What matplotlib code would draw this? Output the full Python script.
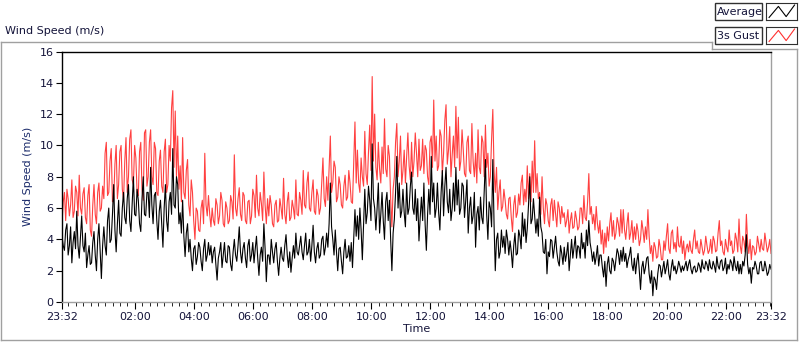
import numpy as np
import matplotlib
matplotlib.use("Agg")
import matplotlib.pyplot as plt
from matplotlib.patches import Rectangle
from matplotlib.lines import Line2D

# 3s gust, one value every 2.5 minutes from 23:32 (24 per hour, one row per hour)
gust_speed = [
    5.0, 6.4, 7.0, 5.2, 7.2, 6.6, 5.5, 6.2, 7.8, 5.4, 5.8, 7.4, 7.0, 5.5, 8.1, 6.0, 5.6, 6.9, 7.3, 5.4, 5.0, 6.8, 7.5, 4.6,
    4.2, 6.2, 7.5, 5.6, 5.0, 7.0, 7.6, 5.8, 6.0, 7.4, 6.6, 9.5, 10.2, 6.8, 7.0, 9.0, 9.8, 6.4, 6.5, 8.8, 10.0, 6.6, 7.5, 9.6,
    10.0, 7.2, 6.5, 9.0, 10.5, 7.0, 8.0, 10.4, 11.0, 7.8, 7.5, 10.0, 9.2, 7.0, 6.8, 9.6, 10.2, 7.2, 6.5, 10.8, 11.0, 7.4, 8.0, 10.2,
    11.0, 8.0, 7.5, 10.2, 9.8, 7.0, 6.8, 9.0, 9.7, 7.4, 7.0, 9.6, 10.4, 7.0, 7.5, 10.0, 9.0, 12.4, 13.5, 8.6, 12.2, 8.0, 10.6, 7.2,
    8.7, 6.4, 10.5, 7.0, 6.6, 8.4, 9.1, 6.2, 5.5, 7.8, 7.0, 5.2, 4.0, 6.0, 5.8, 4.6, 4.5, 6.0, 6.5, 5.0, 9.5, 6.2, 5.5, 6.8,
    5.6, 4.8, 6.0, 5.2, 4.9, 6.6, 6.2, 5.0, 5.5, 7.0, 6.5, 5.0, 4.8, 6.4, 6.0, 5.0, 5.2, 6.8, 6.4, 5.3, 9.4, 6.0, 5.5, 6.6,
    7.3, 5.6, 5.2, 7.0, 6.8, 5.2, 5.0, 6.4, 6.5, 5.0, 5.5, 7.2, 6.8, 5.4, 8.1, 6.0, 5.5, 7.0, 6.3, 5.2, 8.3, 6.2, 5.0, 6.6,
    5.5, 6.8, 6.2, 5.0, 4.8, 6.2, 6.5, 5.1, 5.2, 6.6, 6.0, 5.3, 7.9, 5.6, 5.0, 6.4, 7.0, 5.2, 5.4, 6.5, 6.0, 5.3, 7.8, 5.6,
    5.5, 7.0, 6.5, 5.6, 8.4, 6.2, 6.0, 7.6, 8.3, 6.0, 5.8, 7.0, 7.8, 5.8, 5.6, 7.2, 6.8, 5.6, 6.0, 7.6, 9.2, 6.6, 6.1, 8.0,
    6.5, 8.6, 10.6, 7.0, 7.6, 9.0, 8.6, 6.4, 6.7, 8.0, 7.5, 6.2, 6.0, 7.4, 8.1, 6.5, 6.7, 8.4, 7.6, 6.4, 6.3, 9.0, 11.5, 7.6,
    9.7, 7.6, 7.0, 9.2, 8.0, 7.4, 10.9, 8.2, 7.5, 9.6, 11.3, 8.4, 14.4, 9.0, 12.0, 8.6, 7.8, 10.2, 8.5, 7.6, 9.9, 8.2, 11.7, 8.5,
    8.0, 10.0, 9.3, 6.6, 4.8, 7.2, 8.0, 10.2, 11.4, 8.0, 9.0, 10.6, 7.5, 8.4, 9.7, 7.6, 9.3, 10.8, 8.7, 7.8, 10.2, 8.0, 9.0, 10.8,
    9.5, 8.0, 10.4, 8.4, 8.7, 10.4, 8.2, 10.0, 9.7, 8.0, 7.5, 10.2, 10.6, 8.6, 12.9, 9.0, 10.6, 8.4, 8.7, 11.0, 10.6, 8.2, 9.5, 11.6,
    12.6, 8.8, 9.7, 11.2, 8.0, 9.4, 10.6, 8.6, 12.5, 9.2, 11.8, 8.4, 9.0, 11.0, 9.7, 8.2, 8.0, 10.2, 10.6, 8.4, 8.2, 11.4, 9.0, 8.0,
    9.5, 7.6, 11.0, 8.6, 8.2, 10.6, 10.2, 8.0, 11.3, 8.6, 9.5, 7.4, 8.0, 10.4, 12.3, 8.4, 7.0, 8.6, 5.9, 7.0, 7.8, 5.8, 6.1, 7.2,
    6.5, 5.6, 5.3, 6.6, 6.7, 5.4, 4.5, 6.2, 6.8, 5.4, 5.7, 6.9, 6.2, 7.6, 8.1, 6.2, 7.2, 6.4, 8.7, 6.6, 8.2, 6.4, 9.0, 7.0,
    10.3, 7.0, 8.2, 6.6, 7.0, 5.6, 8.0, 6.0, 5.0, 6.6, 6.2, 5.2, 4.8, 6.2, 6.6, 5.2, 6.5, 5.6, 4.8, 6.4, 6.0, 5.0, 6.1, 5.4,
    5.7, 4.8, 5.2, 5.9, 4.4, 5.2, 5.7, 4.7, 4.8, 5.8, 5.3, 4.6, 4.8, 6.0, 6.0, 5.0, 6.8, 5.4, 5.2, 6.4, 8.2, 5.6, 6.1, 5.0,
    5.6, 4.6, 6.1, 5.0, 4.4, 5.2, 3.7, 4.6, 3.1, 4.4, 3.5, 4.8, 3.9, 5.0, 5.7, 4.2, 5.2, 4.0, 4.4, 5.4, 5.0, 4.2, 5.9, 4.4,
    5.9, 4.6, 4.0, 5.0, 5.7, 4.0, 4.4, 5.2, 3.8, 4.8, 4.0, 5.0, 4.5, 3.6, 4.0, 5.2, 4.6, 3.8, 4.8, 4.0, 5.9, 4.2, 3.1, 3.6,
    2.6, 3.8, 3.5, 2.8, 2.9, 4.0, 3.5, 2.7, 2.7, 3.9, 3.3, 4.2, 5.0, 3.4, 3.1, 4.4, 4.6, 3.4, 3.8, 3.2, 4.8, 3.6, 3.5, 4.2,
    3.1, 3.9, 2.7, 3.4, 3.7, 3.2, 3.9, 3.3, 3.1, 4.0, 4.6, 3.4, 3.9, 3.2, 3.1, 4.0, 3.5, 3.0, 3.3, 4.2, 3.6, 3.1, 3.3, 4.0,
    3.1, 4.2, 3.9, 3.2, 3.3, 4.4, 5.2, 3.6, 3.9, 3.2, 3.0, 4.0, 3.5, 3.2, 4.6, 3.6, 3.9, 3.1, 3.3, 4.4, 4.0, 3.2, 5.3, 3.6,
    3.1, 4.2, 3.9, 3.2, 5.6, 3.8, 3.1, 4.0, 2.7, 3.6, 3.5, 3.0, 3.2, 4.2, 3.7, 3.2, 4.0, 3.4, 3.3, 4.4, 3.8, 3.2, 3.5, 4.0,
    3.1,
]

# average wind speed, same timestamps
avg_speed = [
    4.2, 3.6, 3.3, 4.6, 5.0, 3.0, 3.6, 4.8, 2.5, 3.8, 4.5, 3.4, 5.8, 3.6, 2.8, 4.2, 5.5, 3.6, 3.2, 4.4, 2.2, 3.0, 3.6, 2.4,
    2.5, 3.8, 4.5, 3.0, 2.0, 4.0, 5.0, 3.2, 1.5, 3.6, 4.8, 3.6, 3.0, 5.2, 6.0, 3.8, 4.0, 5.6, 7.5, 4.6, 3.2, 5.0, 6.5, 4.4,
    4.2, 6.0, 7.0, 5.4, 5.0, 6.6, 7.5, 5.2, 4.5, 6.2, 8.0, 5.6, 5.5, 7.2, 6.5, 5.0, 4.5, 6.6, 8.0, 5.6, 5.5, 7.0, 7.0, 5.4,
    8.6, 6.2, 5.0, 6.8, 7.0, 5.2, 4.0, 5.8, 6.5, 5.0, 3.5, 6.0, 7.5, 5.2, 4.5, 6.4, 7.0, 5.6, 9.8, 6.2, 6.0, 8.0, 7.5, 5.0,
    5.7, 4.4, 6.5, 4.2, 2.9, 4.4, 5.0, 3.2, 4.0, 2.8, 2.0, 3.4, 3.6, 2.4, 2.9, 3.8, 3.5, 2.6, 2.0, 3.4, 4.0, 2.6, 3.0, 3.8,
    3.0, 3.6, 2.5, 3.2, 3.5, 2.4, 1.4, 2.8, 3.2, 3.8, 2.2, 3.0, 3.8, 2.6, 2.5, 3.6, 3.5, 2.4, 2.0, 3.2, 4.0, 3.0, 2.6, 3.6,
    4.8, 3.2, 2.5, 3.4, 3.8, 2.8, 2.2, 3.6, 4.0, 2.6, 3.0, 3.8, 2.5, 3.4, 4.2, 2.8, 1.7, 3.0, 3.5, 2.6, 5.0, 3.4, 1.3, 3.0,
    3.0, 2.4, 4.0, 3.2, 2.5, 3.4, 3.8, 2.6, 1.7, 2.8, 3.5, 2.8, 2.6, 3.6, 4.3, 3.0, 2.2, 3.2, 1.9, 2.8, 3.6, 2.8, 4.4, 3.2,
    3.0, 3.6, 4.2, 3.2, 2.7, 3.6, 4.4, 3.0, 3.2, 4.0, 2.6, 3.6, 4.9, 3.2, 2.5, 3.4, 3.8, 2.8, 3.0, 4.0, 4.2, 3.0, 3.5, 4.4,
    3.5, 5.0, 7.6, 4.8, 4.0, 3.0, 4.6, 3.2, 2.0, 3.4, 3.5, 2.6, 1.8, 3.2, 4.0, 2.8, 2.9, 3.6, 2.6, 3.8, 2.2, 4.0, 5.9, 4.2,
    5.5, 4.0, 6.0, 4.6, 2.7, 5.0, 7.2, 5.0, 5.7, 7.4, 6.5, 5.2, 10.1, 6.6, 6.0, 4.6, 6.0, 7.6, 4.4, 5.6, 7.0, 5.2, 4.0, 6.4,
    7.0, 5.2, 6.5, 4.0, 2.0, 4.4, 5.3, 7.0, 9.3, 6.0, 7.6, 5.4, 5.8, 7.2, 5.7, 4.8, 7.6, 5.6, 6.0, 7.4, 8.3, 6.0, 5.6, 7.2,
    5.2, 6.6, 3.9, 5.4, 6.7, 5.2, 7.6, 5.0, 3.3, 5.6, 7.2, 5.6, 9.3, 6.4, 7.6, 5.4, 6.0, 7.6, 5.7, 4.6, 7.0, 8.4, 5.5, 7.4,
    8.6, 6.4, 5.7, 7.2, 5.2, 6.0, 7.6, 5.8, 8.6, 6.2, 7.8, 5.6, 6.0, 7.6, 7.4, 5.4, 6.5, 7.8, 4.4, 6.0, 6.7, 5.0, 5.5, 7.0,
    3.5, 5.6, 6.1, 4.6, 6.7, 5.4, 5.0, 7.0, 9.1, 5.6, 4.0, 6.4, 6.0, 4.8, 9.1, 5.0, 2.0, 4.0, 4.4, 2.8, 3.2, 4.6, 3.5, 4.2,
    3.1, 4.6, 4.0, 3.0, 3.9, 3.2, 2.2, 3.6, 4.4, 3.0, 3.1, 4.6, 4.2, 3.4, 5.7, 4.2, 5.3, 3.8, 4.7, 6.2, 8.0, 5.0, 5.3, 6.6,
    5.5, 4.4, 5.3, 4.2, 6.7, 4.8, 4.4, 3.2, 3.1, 4.0, 1.8, 3.2, 2.9, 4.0, 3.9, 2.8, 3.5, 4.2, 3.2, 2.6, 2.3, 3.6, 3.1, 2.4,
    3.5, 2.6, 3.1, 3.8, 2.0, 3.0, 4.0, 2.8, 3.5, 4.2, 2.8, 3.6, 3.5, 2.8, 4.4, 3.4, 3.8, 2.8, 4.6, 3.6, 5.2, 3.8, 3.3, 2.6,
    3.2, 2.4, 2.9, 3.6, 2.3, 3.0, 3.0, 2.2, 1.6, 2.6, 1.0, 2.4, 2.9, 2.0, 1.8, 2.8, 2.6, 2.0, 2.7, 3.4, 3.1, 2.4, 3.3, 2.6,
    3.5, 2.6, 3.1, 2.2, 2.7, 3.0, 3.5, 2.4, 2.0, 2.8, 1.8, 2.6, 3.1, 2.0, 0.8, 2.2, 2.6, 1.8, 2.2, 2.8, 2.9, 1.8, 1.2, 2.0,
    0.4, 1.6, 1.4, 0.8, 1.8, 2.4, 2.3, 1.6, 2.1, 2.6, 1.8, 2.2, 2.7, 1.8, 1.4, 2.2, 2.7, 2.0, 2.3, 1.8, 2.1, 2.6, 2.3, 1.9,
    2.3, 2.0, 2.3, 2.6, 2.0, 2.4, 2.7, 2.1, 1.8, 2.2, 2.3, 1.9, 2.0, 2.5, 2.3, 1.9, 2.7, 2.2, 2.1, 2.6, 2.4, 2.0, 2.7, 2.2,
    2.1, 2.6, 2.3, 1.9, 2.9, 2.3, 2.1, 2.6, 2.7, 2.0, 2.2, 2.8, 1.8, 2.4, 2.1, 2.7, 2.5, 2.0, 2.9, 2.3, 2.0, 2.6, 1.8, 2.4,
    1.8, 2.6, 2.3, 3.0, 4.3, 2.4, 1.8, 2.2, 1.2, 2.2, 2.1, 2.6, 2.3, 1.8, 1.8, 2.5, 2.6, 2.0, 2.0, 2.6, 2.2, 1.7, 1.9, 2.4,
    2.1,
]

minutes = np.arange(len(avg_speed)) * 2.5  # minutes after 23:32

# x ticks, in minutes after 23:32
major_pos = [0, 148, 268, 388, 508, 628, 748, 868, 988, 1108, 1228, 1348, 1440]
major_labels = ["23:32", "02:00", "04:00", "06:00", "08:00", "10:00", "12:00",
                "14:00", "16:00", "18:00", "20:00", "22:00", "23:32"]

plt.rcParams['font.family'] = ['DejaVu Sans']
txt = "#14143a"
frame = "#a0a0a0"

fig = plt.figure(figsize=(8.0, 3.42), dpi=100)

# outer gray frame of the graph control
fig.add_artist(Line2D([1/800, 712/800], [1-42/342, 1-42/342], color=frame, lw=1))
fig.add_artist(Line2D([1/800, 1/800], [1-42/342, 1-340/342], color=frame, lw=1))
fig.add_artist(Line2D([1/800, 797/800], [1-340/342, 1-340/342], color=frame, lw=1))
fig.add_artist(Line2D([797/800, 797/800], [1-340/342, 1-49/342], color=frame, lw=1))
fig.add_artist(Line2D([712/800, 797/800], [1-49/342, 1-49/342], color=frame, lw=1))
fig.add_artist(Line2D([712/800, 712/800], [1-42/342, 1-49/342], color=frame, lw=1))

fig.text(5/800, 1-31/342, "Wind Speed (m/s)", fontsize=8, color=txt, va="center", ha="left")

ax = fig.add_axes([62/800, 1-302/342, 709/800, 250.5/342])
ax.plot(minutes, gust_speed, color="#ff4040", lw=0.8)
ax.plot(minutes, avg_speed, color="black", lw=0.8)

ax.set_xlim(0, 1440)
ax.set_ylim(0, 16)
ax.set_yticks(np.arange(0, 17, 2))
ax.set_xticks(major_pos)
ax.set_xticklabels(major_labels)
ax.set_xticks(np.arange(13, 1440, 15), minor=True)
ax.tick_params(axis="both", labelsize=8, labelcolor=txt, direction="out", width=0.8)
ax.tick_params(axis="x", which="major", length=5, pad=2)
ax.tick_params(axis="x", which="minor", length=3)
ax.tick_params(axis="y", length=4, pad=2)
ax.set_xlabel("Time", fontsize=8, color=txt, labelpad=2)
ax.set_ylabel("Wind Speed (m/s)", fontsize=8, color="#1a2a6a", labelpad=5)

ax.spines["top"].set_color("black")
ax.spines["left"].set_color("black")
ax.spines["right"].set_color(frame)
ax.spines["bottom"].set_color(frame)
for s in ax.spines.values():
    s.set_linewidth(1.0)

# legend: name boxes plus small line icons
for i, (name, col) in enumerate([("Average", "black"), ("3s Gust", "#ff3030")]):
    y0 = 3 + i * 24
    fig.add_artist(Rectangle((715/800, 1-(y0+17)/342), 47/800, 17/342,
                             fill=False, ec="#303030", lw=1))
    fig.text(717/800, 1-(y0+9)/342, name, fontsize=8, color=txt, va="center", ha="left")
    ic = fig.add_axes([766/800, 1-(y0+17)/342, 31/800, 17/342])
    ic.plot([0.1, 0.4, 0.65, 0.92], [0.15, 0.8, 0.2, 0.88], color=col, lw=0.8)
    ic.set_xlim(0, 1)
    ic.set_ylim(0, 1)
    ic.set_xticks([])
    ic.set_yticks([])
    for s in ic.spines.values():
        s.set_color("#303030")

fig.savefig("out.png", dpi=100)
